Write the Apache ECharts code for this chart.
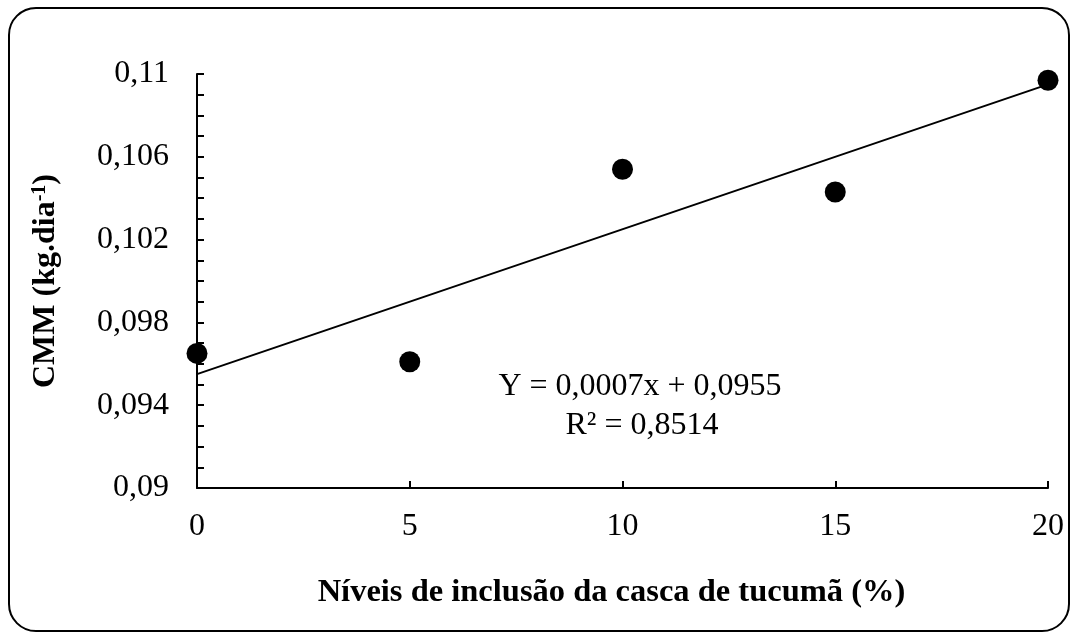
<!DOCTYPE html>
<html>
<head>
<meta charset="utf-8">
<script src="https://cdn.jsdelivr.net/npm/echarts@6/dist/echarts.min.js"></script>
<style>html,body{margin:0;padding:0;background:#fff}#c{width:1077px;height:639px}</style>
</head>
<body>
<div id="c"></div>
<script>
const levels = [0, 5, 10, 15, 20];
const cmm = [0.0965, 0.0961, 0.1054, 0.1043, 0.1097];
const trendX = [0, 20];
const trendY = [0.0955, 0.1095];
const yTickLabels = ['0,09', '0,094', '0,098', '0,102', '0,106', '0,11'];
const xTickLabels = ['0', '5', '10', '15', '20'];
const equationLines = ['Y = 0,0007x + 0,0955', 'R² = 0,8514'];
const xTitle = 'Níveis de inclusão da casca de tucumã (%)';

const FONT = '"Liberation Serif", "Times New Roman", serif';
const chart = echarts.init(document.getElementById('c'), null, {renderer: 'canvas'});
const yLabelMap = {};
yTickLabels.forEach((t, i) => { yLabelMap[90 + i * 4] = t; });

chart.setOption({
  animation: false,
  backgroundColor: '#fff',
  grid: {left: 197, right: 29, top: 74, bottom: 151, containLabel: false},
  xAxis: {
    type: 'value', min: 0, max: 20, interval: 5,
    axisLine: {show: true, onZero: false, lineStyle: {color: '#000', width: 2}},
    axisTick: {show: true, inside: true, length: 7, lineStyle: {color: '#000', width: 2}},
    splitLine: {show: false},
    axisLabel: {color: '#000', fontFamily: FONT, fontSize: 32, margin: 23,
      formatter: v => { const i = levels.indexOf(v); return i >= 0 ? xTickLabels[i] : ''; }},
    name: xTitle,
    nameLocation: 'middle', nameGap: 88,
    nameTextStyle: {color: '#000', fontFamily: FONT, fontSize: 32.5, fontWeight: 'bold', padding: [0, 22, 0, 0]}
  },
  yAxis: {
    type: 'value', min: 0.09, max: 0.11, interval: 0.001,
    axisLine: {show: true, onZero: false, lineStyle: {color: '#000', width: 2}},
    axisTick: {show: true, inside: true, length: 7, lineStyle: {color: '#000', width: 2}},
    splitLine: {show: false},
    axisLabel: {color: '#000', fontFamily: FONT, fontSize: 32, margin: 28, padding: [5, 0, 0, 0],
      formatter: v => yLabelMap[Math.round(v * 1000)] || ''},
    name: '{b|CMM (kg.dia}{s|-1}{b|)}',
    nameLocation: 'middle', nameGap: 135, nameRotate: 90,
    nameTextStyle: {rich: {
      b: {color: '#000', fontFamily: FONT, fontSize: 32, fontWeight: 'bold'},
      s: {color: '#000', fontFamily: FONT, fontSize: 20, fontWeight: 'bold', verticalAlign: 'top', padding: [0, 0, 12, 0]}
    }}
  },
  series: [
    {
      type: 'line', data: trendX.map((x, i) => [x, trendY[i]]),
      symbol: 'none', lineStyle: {color: '#000', width: 2}, z: 2, silent: true
    },
    {
      type: 'scatter', data: levels.map((x, i) => [x, cmm[i]]),
      symbol: 'circle', symbolSize: 21, itemStyle: {color: '#000', opacity: 1}, z: 3
    }
  ],
  graphic: [
    {type: 'rect', shape: {x: 9, y: 8, width: 1060, height: 623, r: 27},
     style: {fill: 'none', stroke: '#000', lineWidth: 2}, silent: true, z: 0},
    {type: 'text', x: 640, y: 387,
     style: {text: equationLines[0], font: '32px ' + FONT, fill: '#000', align: 'center', verticalAlign: 'middle'}},
    {type: 'text', x: 642, y: 426,
     style: {text: equationLines[1], font: '32px ' + FONT, fill: '#000', align: 'center', verticalAlign: 'middle'}}
  ]
});
</script>
</body>
</html>
